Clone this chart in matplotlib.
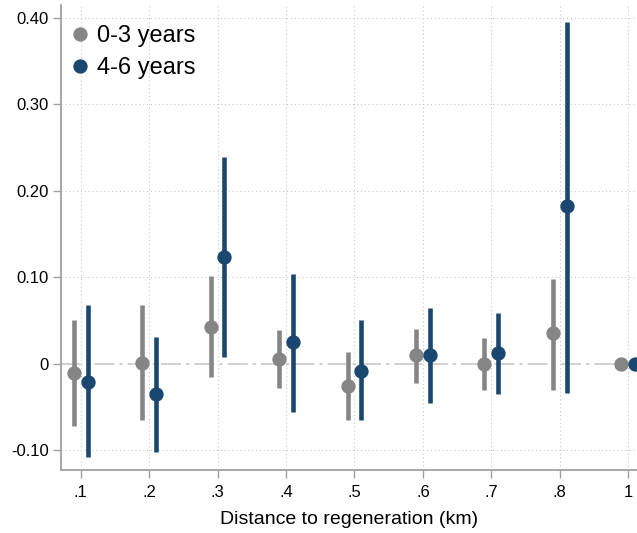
import matplotlib
matplotlib.use('Agg')
import matplotlib.pyplot as plt
import numpy as np

plt.rcParams['font.family'] = ['Liberation Sans', 'DejaVu Sans']

distances = ['.1', '.2', '.3', '.4', '.5', '.6', '.7', '.8', '1']

# 0-3 years: point estimate and 95% CI
young_est = [-0.011, 0.001, 0.043, 0.006, -0.026, 0.010, 0.000, 0.035, 0.0]
young_lo = [-0.072, -0.065, -0.015, -0.028, -0.065, -0.022, -0.031, -0.030, 0.0]
young_hi = [0.050, 0.068, 0.102, 0.039, 0.013, 0.040, 0.030, 0.098, 0.0]

# 4-6 years
old_est = [-0.021, -0.035, 0.124, 0.025, -0.008, 0.010, 0.012, 0.182, 0.0]
old_lo = [-0.108, -0.102, 0.008, -0.056, -0.065, -0.045, -0.035, -0.034, 0.0]
old_hi = [0.068, 0.031, 0.239, 0.104, 0.050, 0.065, 0.059, 0.395, 0.0]

yticks = [-0.10, 0, 0.10, 0.20, 0.30, 0.40]
ytick_labels = ['-0.10', '0', '0.10', '0.20', '0.30', '0.40']

gray = '#858585'
navy = '#1a476f'
axis_col = '#a0a0a0'

W, H = 637, 533
fig = plt.figure(figsize=(W / 100, H / 100), dpi=100)
ax = fig.add_axes([61 / W, 1 - 470 / H, 1 - 61 / W, 465 / H])

x = np.arange(1, len(distances) + 1)
off = 0.1

# grid
for xi in x:
    ax.axvline(xi, color='#c8c8c8', lw=0.8, ls=(0, (1, 2.5)), zorder=0)
for yv in yticks:
    if yv != 0:
        ax.axhline(yv, color='#c8c8c8', lw=0.8, ls=(0, (1, 2.5)), zorder=0)
ax.axhline(0, color='#c8c8c8', lw=1.2, ls=(0, (12, 3, 2, 3)), zorder=0)

for xs, est, lo, hi, col, lab in [(x - off, young_est, young_lo, young_hi, gray, '0-3 years'),
                                   (x + off, old_est, old_lo, old_hi, navy, '4-6 years')]:
    ax.vlines(xs, lo, hi, color=col, lw=3.3, zorder=2)
    ax.plot(xs, est, 'o', color=col, ms=9.3, zorder=3, label=lab, clip_on=False)

ax.set_xlim(0.71, 9.13)
ax.set_ylim(-0.123, 0.415)
ax.set_xticks(x)
ax.set_xticklabels(distances, fontsize=12)
ax.set_yticks(yticks)
ax.set_yticklabels(ytick_labels, fontsize=12)
ax.tick_params(axis='both', direction='out', length=5.5, width=1, color=axis_col)
ax.tick_params(axis='y', pad=3.5)
ax.tick_params(axis='x', pad=5)
ax.set_xlabel('Distance to regeneration (km)', fontsize=14, labelpad=8)

for s in ['top', 'right']:
    ax.spines[s].set_visible(False)
for s in ['left', 'bottom']:
    ax.spines[s].set_color(axis_col)
    ax.spines[s].set_linewidth(1.3)

ax.legend(loc='upper left', frameon=False, fontsize=17, handletextpad=0.3,
          handlelength=0.8, borderaxespad=0, borderpad=0, labelspacing=0.42,
          bbox_to_anchor=(71 / W, 1 - 25 / H), bbox_transform=fig.transFigure)

fig.savefig('out.png', dpi=100)
